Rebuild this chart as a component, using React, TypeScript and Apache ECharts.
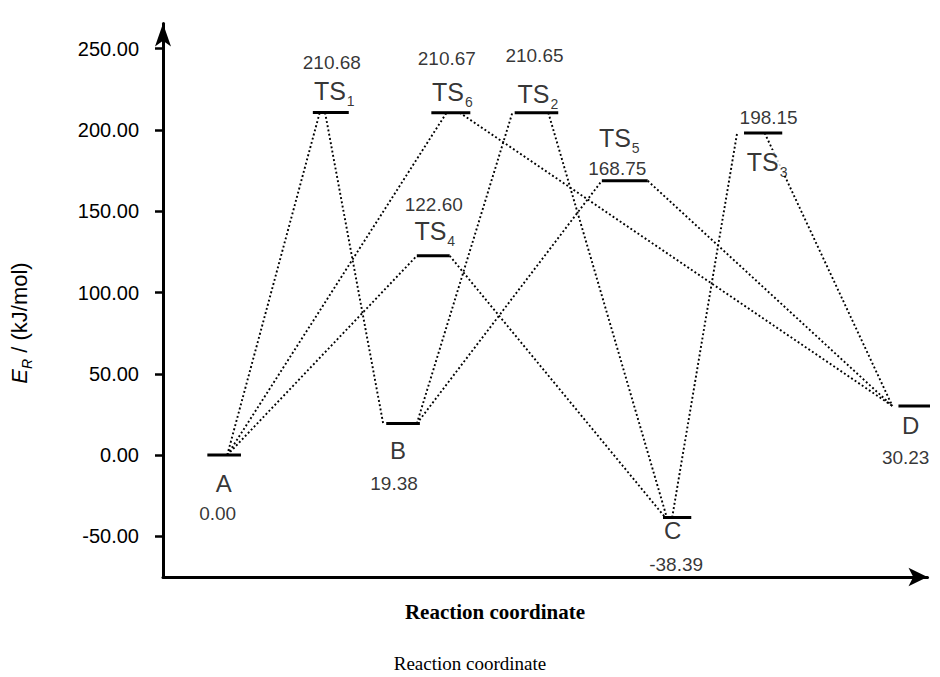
import React, { useEffect, useRef } from "react";
import * as echarts from "echarts";

// ---- data ----
const levelNames = ["A", "TS1", "B", "TS4", "TS6", "TS2", "TS5", "C", "TS3", "D"];
const levelEnergies = [0, 210.68, 19.38, 122.6, 210.67, 210.65, 168.75, -38.39, 198.15, 30.23];
// reaction-coordinate extent of each level
const levelStart = [5.8, 19.6, 29.2, 33.2, 35.1, 46.0, 57.4, 65.4, 76.0, 96.2];
const levelEnd = [10.2, 24.3, 33.6, 37.5, 40.2, 51.7, 63.4, 69.1, 81.0, 100.7];

// dotted connections between levels (reaction-coordinate of each end)
const linkFrom = ["A", "TS1", "A", "TS6", "A", "TS4", "B", "TS2", "B", "TS5", "C", "TS3"];
const linkFromX = [8.4, 21.2, 8.4, 38.8, 8.4, 37.5, 33.2, 50.4, 33.2, 63.4, 66.6, 78.7];
const linkTo = ["TS1", "B", "TS6", "D", "TS4", "C", "TS2", "C", "TS5", "D", "TS3", "D"];
const linkToX = [20.5, 28.8, 37.1, 95.4, 33.2, 65.7, 45.7, 65.9, 57.4, 95.4, 75.1, 95.4];

const yTicks = [-50, 0, 50, 100, 150, 200, 250];

// ---- label layout (style) ----
const nameOffset: Record<string, number[]> = {
  A: [-0.5, 28], TS1: [3.5, -21], B: [-5, 26.5], TS4: [1.5, -24.5], TS6: [1.5, -20],
  TS2: [1.5, -18.5], TS5: [-5.5, -42], C: [-4.5, 13], TS3: [4, 30], D: [-5, 20],
};
const valueOffset: Record<string, number[]> = {
  A: [-6.5, 58], TS1: [1, -50], B: [-9, 60], TS4: [0.5, -51], TS6: [-4, -54],
  TS2: [-2, -57], TS5: [-7.5, -12.5], C: [-1, 47.5], TS3: [5.5, -15.5], D: [-10, 51.5],
};

const SANS = "'Liberation Sans', Arial, Helvetica, sans-serif";
const SERIF = "'Liberation Serif', 'Times New Roman', serif";

function energyOf(name: string) {
  return levelEnergies[levelNames.indexOf(name)];
}

export default function App() {
  const ref = useRef<HTMLDivElement>(null);
  useEffect(() => {
    if (!ref.current) return;
    const chart = echarts.init(ref.current, undefined, { renderer: "svg" });

    const levelSeries = levelNames.map((n, i) => ({
      type: "line",
      name: n,
      data: [
        [levelStart[i], levelEnergies[i]],
        [levelEnd[i], levelEnergies[i]],
      ],
      symbol: "none",
      clip: false,
      lineStyle: { color: "#000", width: 3 },
      z: 3,
      silent: true,
    }));

    const linkSeries = linkFrom.map((f, i) => ({
      type: "line",
      data: [
        [linkFromX[i], energyOf(f)],
        [linkToX[i], energyOf(linkTo[i])],
      ],
      symbol: "none",
      clip: false,
      lineStyle: { color: "#000", width: 1.9, type: [1.9, 2.4] },
      z: 2,
      silent: true,
    }));

    const centers = levelNames.map((n, i) => (levelStart[i] + levelEnd[i]) / 2);

    const nameLabelSeries = {
      type: "scatter",
      symbolSize: 0,
      z: 5,
      silent: true,
      data: levelNames.map((n, i) => ({
        value: [centers[i], levelEnergies[i]],
        label: {
          offset: nameOffset[n],
          backgroundColor: n === "TS3" ? "#fff" : "transparent",
        },
      })),
      label: {
        show: true,
        position: "inside",
        color: "#000",
        fontFamily: SANS,
        fontSize: 24,
        formatter: (p: any) => {
          const n = levelNames[p.dataIndex];
          if (n.startsWith("TS")) return `{n|TS}{s|${n.slice(2)}}`;
          return `{p|${n}}`;
        },
        rich: {
          n: { fontSize: 25, lineHeight: 26, verticalAlign: "top", fontFamily: SANS, color: "#000" },
          s: { fontSize: 14, lineHeight: 13, padding: [19, 0, 0, 1], fontFamily: SANS, color: "#000" },
          p: { fontSize: 24, lineHeight: 26, fontFamily: SANS, color: "#000" },
        },
      },
    };

    const valueLabelSeries = {
      type: "scatter",
      symbolSize: 0,
      z: 5,
      silent: true,
      data: levelNames.map((n, i) => ({
        value: [centers[i], levelEnergies[i]],
        label: { offset: valueOffset[n] },
      })),
      label: {
        show: true,
        position: "inside",
        color: "#000",
        fontFamily: SANS,
        fontSize: 19,
        formatter: (p: any) => levelEnergies[p.dataIndex].toFixed(2),
      },
    };

    chart.setOption({
      animation: false,
      backgroundColor: "#fff",
      grid: { left: 163, right: 12.5, top: 23.5, bottom: 100 },
      xAxis: {
        type: "value",
        min: 0,
        max: 100,
        axisLine: {
          show: true,
          onZero: false,
          symbol: ["none", "arrow"],
          symbolSize: [14, 19],
          lineStyle: { color: "#000", width: 3 },
        },
        axisTick: { show: false },
        axisLabel: { show: false },
        splitLine: { show: false },
      },
      yAxis: {
        type: "value",
        min: -75,
        max: 265.5,
        axisLine: {
          show: true,
          onZero: false,
          symbol: ["none", "arrow"],
          symbolSize: [12, 23],
          lineStyle: { color: "#000", width: 3 },
        },
        axisTick: {
          show: true,
          customValues: yTicks,
          length: 8,
          lineStyle: { color: "#000", width: 2.5 },
        },
        axisLabel: {
          show: true,
          customValues: yTicks,
          margin: 24,
          color: "#000",
          fontFamily: SANS,
          fontSize: 20,
          formatter: (v: number) => v.toFixed(2),
        },
        splitLine: { show: false },
      },
      graphic: [
        {
          type: "text",
          x: 20,
          y: 323,
          rotation: Math.PI / 2,
          style: {
            text: "{i|E}{r|R}{t| / (kJ/mol)}",
            align: "center",
            verticalAlign: "middle",
            rich: {
              i: { fontStyle: "italic", fontSize: 22, fontFamily: SANS, fill: "#000", lineHeight: 24, verticalAlign: "top" },
              r: { fontStyle: "italic", fontSize: 14, fontFamily: SANS, fill: "#000", lineHeight: 14, padding: [14, 0, 0, 0] },
              t: { fontSize: 22, fontFamily: SANS, fill: "#000", lineHeight: 24, verticalAlign: "top" },
            },
          },
        },
        {
          type: "text",
          x: 495,
          y: 612,
          style: {
            text: "Reaction coordinate",
            align: "center",
            verticalAlign: "middle",
            font: `bold 21px ${SERIF}`,
            fill: "#000",
          },
        },
        {
          type: "text",
          x: 470,
          y: 663,
          style: {
            text: "Reaction coordinate",
            align: "center",
            verticalAlign: "middle",
            font: `19px ${SERIF}`,
            fill: "#000",
          },
        },
      ],
      series: [...linkSeries, ...levelSeries, nameLabelSeries, valueLabelSeries],
    });

    return () => chart.dispose();
  }, []);

  return (
    <div
      ref={ref}
      style={{ position: "fixed", left: 0, top: 0, width: 940, height: 677 }}
    />
  );
}
